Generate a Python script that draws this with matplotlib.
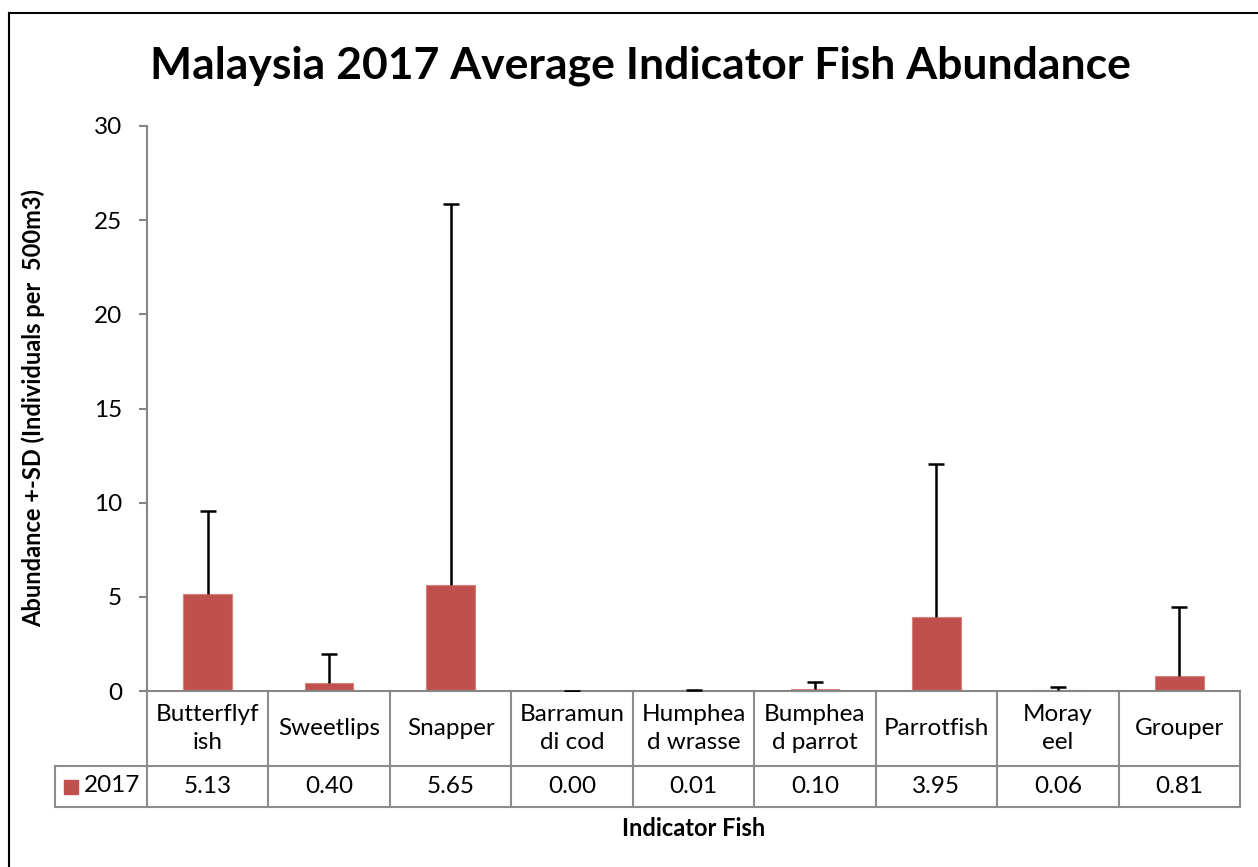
import matplotlib
matplotlib.use("Agg")
import matplotlib.pyplot as plt
from matplotlib.patches import Rectangle

categories = ["Butterflyf\nish", "Sweetlips", "Snapper", "Barramun\ndi cod", "Humphea\nd wrasse",
              "Bumphea\nd parrot", "Parrotfish", "Moray\neel", "Grouper"]
values = [5.13, 0.40, 5.65, 0.00, 0.01, 0.10, 3.95, 0.06, 0.81]
sd = [4.43, 1.55, 20.2, 0.02, 0.04, 0.38, 8.10, 0.16, 3.65]
value_labels = ["5.13", "0.40", "5.65", "0.00", "0.01", "0.10", "3.95", "0.06", "0.81"]
series_name = "2017"
yticks = [0, 5, 10, 15, 20, 25, 30]

plt.rcParams['font.family'] = ['Lato', 'DejaVu Sans']
W, H = 1258, 867
fig = plt.figure(figsize=(W/100, H/100), dpi=100)
fig.patch.set_facecolor('white')

FS = 17.5

# figure border
fig.add_artist(plt.Line2D([9/W, 9/W], [0, 1-13/H], color='black', lw=1.5, transform=fig.transFigure))
fig.add_artist(plt.Line2D([9/W, 1], [1-13/H, 1-13/H], color='black', lw=1.5, transform=fig.transFigure))

x0, x1, ytop, ybot = 147, 1240, 126, 691
ax = fig.add_axes([x0/W, 1-ybot/H, (x1-x0)/W, (ybot-ytop)/H])
n = len(categories)
xs = list(range(n))
bar_color = '#C0504D'
ax.bar(xs, values, width=0.4, color=bar_color, edgecolor='#D9807D', linewidth=0.8, zorder=2)
eb = ax.errorbar(xs, values, yerr=[[0]*n, sd], fmt='none', ecolor='black', elinewidth=1.8,
                 capsize=6, capthick=1.8, zorder=3)
eb[1][0].set_visible(False)  # hide lower caps
ax.set_xlim(-0.5, n-0.5)
ax.set_ylim(0, 30)
ax.set_yticks(yticks)
ax.set_yticklabels([str(t) for t in yticks], fontsize=FS)
ax.set_xticks([])
for s in ['top', 'right']:
    ax.spines[s].set_visible(False)
for s in ['left', 'bottom']:
    ax.spines[s].set_color('#868686')
    ax.spines[s].set_linewidth(1.5)
ax.tick_params(axis='y', length=6, width=1.5, color='#868686', pad=12)

# data table
ppu = (x1-x0)/(n)
def px_to_data_x(px):
    return -0.5 + (px-x0)/ppu
def py_to_axes_y(py):
    return (ybot-py)/(ybot-ytop)

tr = ax.get_xaxis_transform()
gray = '#8C8C8C'
r1 = py_to_axes_y(766)
r2 = py_to_axes_y(807)
leg_left = px_to_data_x(55)
r0 = py_to_axes_y(691)
ax.plot([leg_left, n-0.5], [r1, r1], color=gray, lw=1.5, transform=tr, clip_on=False)
ax.plot([leg_left, n-0.5], [r2, r2], color=gray, lw=1.5, transform=tr, clip_on=False)
for i in range(n+1):
    xv = i-0.5
    ax.plot([xv, xv], [r0, r2], color=gray, lw=1.5, transform=tr, clip_on=False)
ax.plot([leg_left, leg_left], [r1, r2], color=gray, lw=1.5, transform=tr, clip_on=False)

for i in range(n):
    ax.text(i, (r0+r1)/2, categories[i], ha='center', va='center', fontsize=FS,
            transform=tr, clip_on=False, linespacing=1.4)
    ax.text(i, (r1+r2)/2, value_labels[i], ha='center', va='center', fontsize=FS,
            transform=tr, clip_on=False)
fig.add_artist(Rectangle((64/W, 1-794/H), 14/W, 14/H, color=bar_color, transform=fig.transFigure))
fig.text(84/W, 1-786/H, series_name, ha='left', va='center', fontsize=FS)

fig.text(640/W, 1-66/H, "Malaysia 2017 Average Indicator Fish Abundance", ha='center', va='center',
         fontsize=32, fontweight='bold')
fig.text(33/W, 1-408/H, "Abundance +-SD (Individuals per  500m3)", ha='center', va='center',
         fontsize=17, fontweight='bold', rotation=90)
fig.text(694/W, 1-829/H, "Indicator Fish", ha='center', va='center', fontsize=17, fontweight='bold')

fig.savefig("out.png", dpi=100)
